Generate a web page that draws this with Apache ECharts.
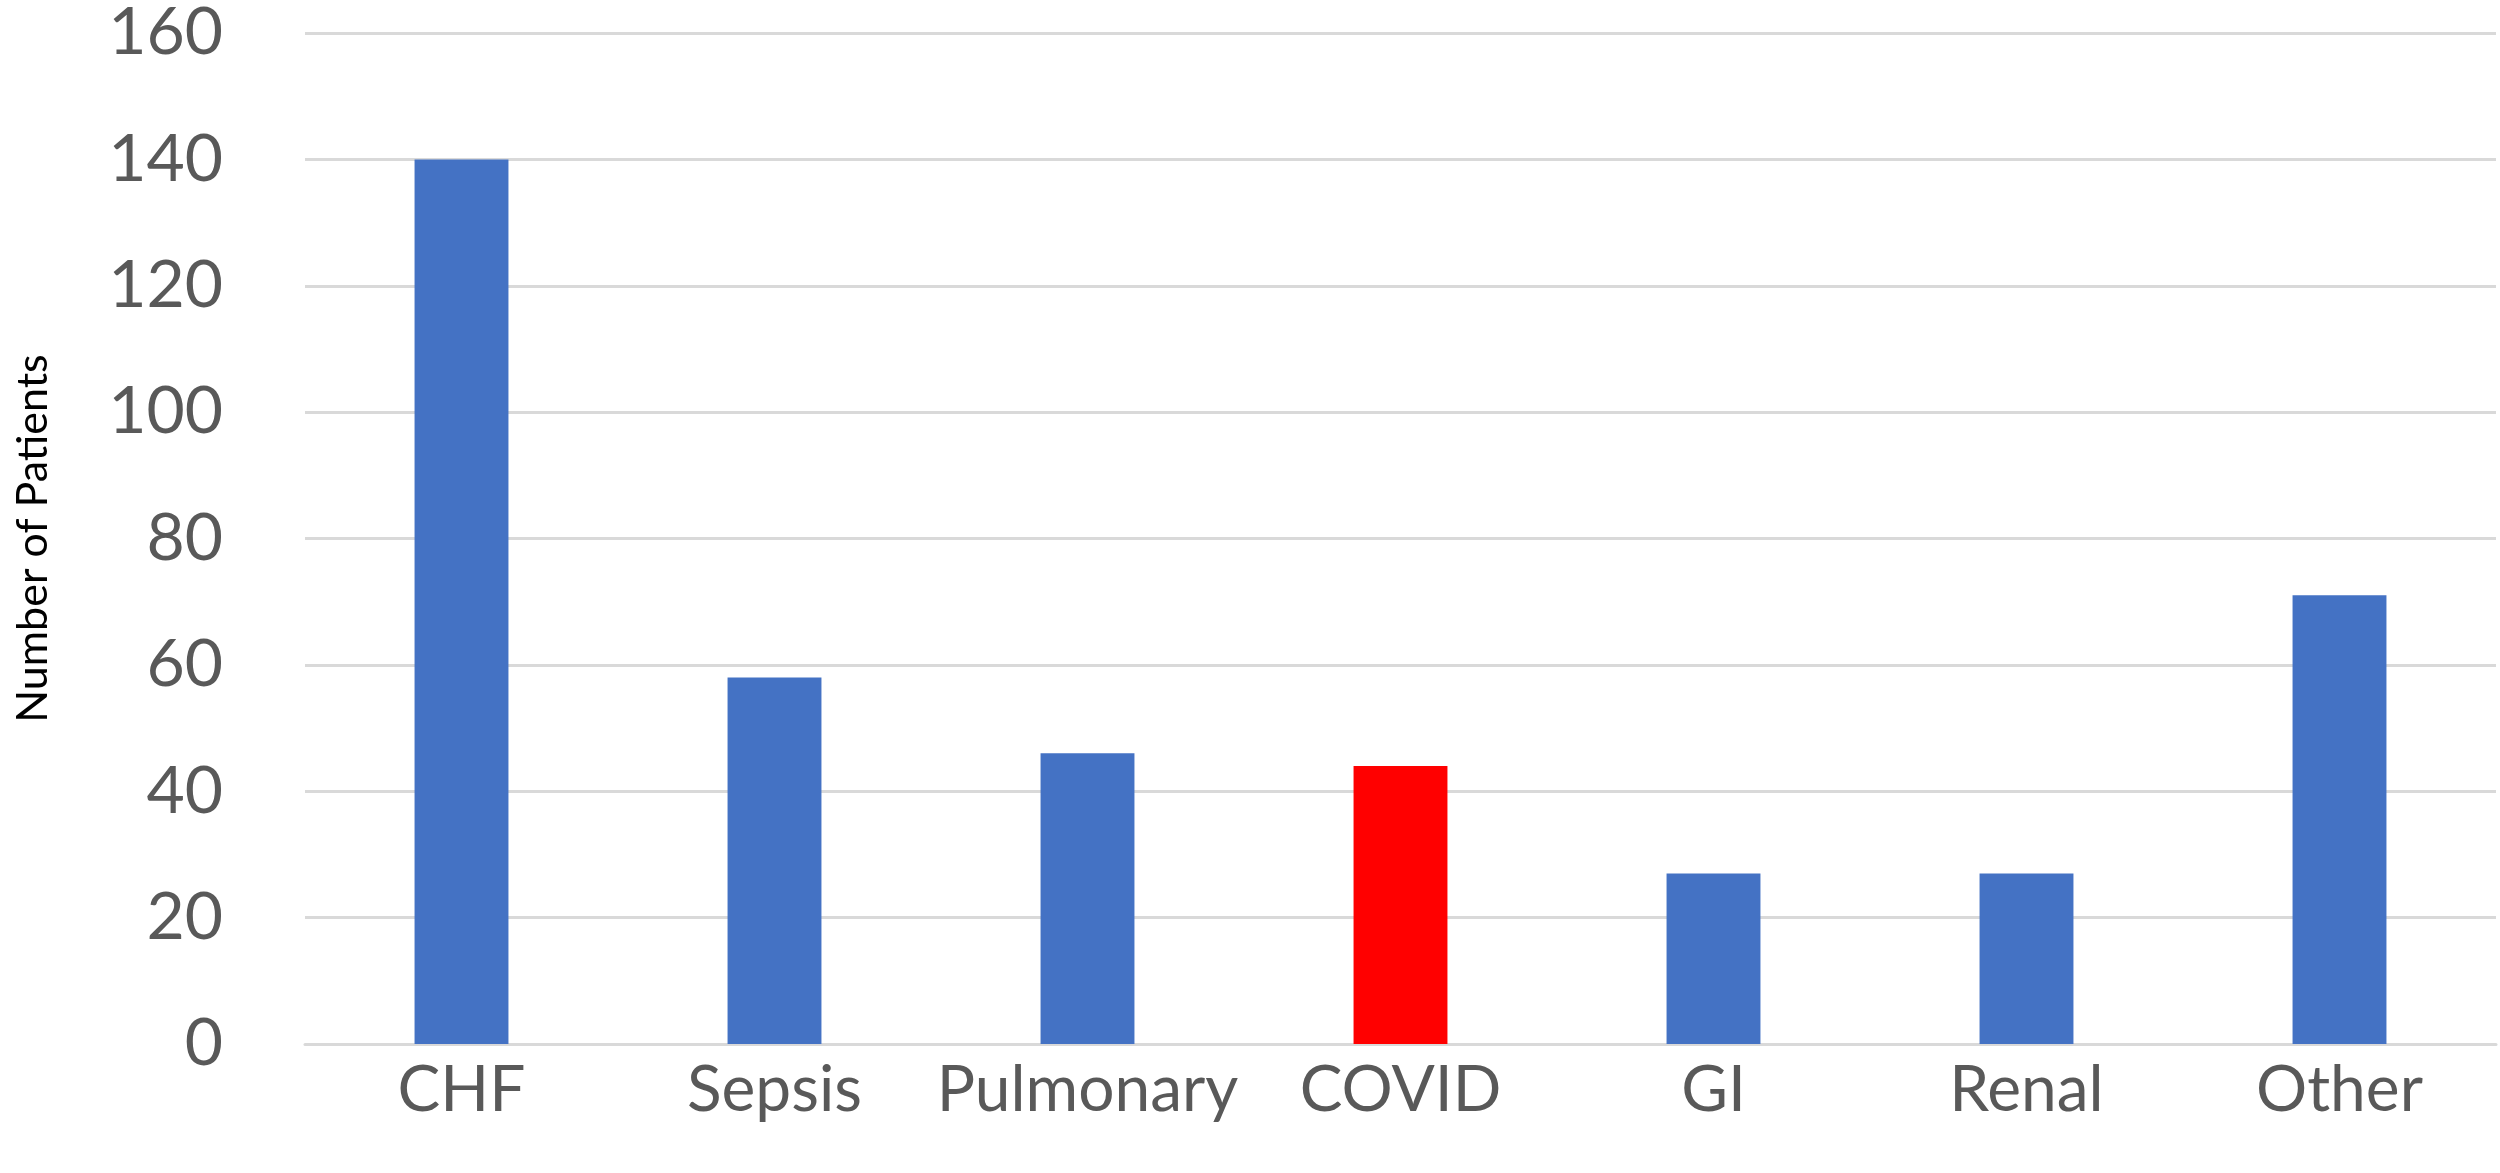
<!DOCTYPE html>
<html>
<head>
<meta charset="utf-8">
<script src="https://cdn.jsdelivr.net/npm/echarts@6/dist/echarts.min.js"></script>
<style>
html,body{margin:0;padding:0;background:#fff;}
#chart{width:2500px;height:1173px;}
</style>
</head>
<body>
<div id="chart"></div>
<script>
const categories = ['CHF', 'Sepsis', 'Pulmonary', 'COVID', 'GI', 'Renal', 'Other'];
const patients = [140, 58, 46, 44, 27, 27, 71];
const highlighted = ['COVID'];
const yTicks = { min: 0, max: 160, interval: 20 };
const yTitle = 'Number of Patients';

const chart = echarts.init(document.getElementById('chart'), null, { renderer: 'canvas' });
chart.setOption({
  animation: false,
  backgroundColor: '#ffffff',
  grid: { left: 305, right: 4, top: 33, bottom: 129, containLabel: false },
  xAxis: {
    type: 'category',
    data: categories,
    axisLine: { show: true, lineStyle: { color: '#d9d9d9', width: 3 } },
    axisTick: { show: false },
    axisLabel: { interval: 0, fontFamily: 'Lato', fontSize: 64, color: '#595959', margin: 14 }
  },
  yAxis: {
    type: 'value',
    min: yTicks.min, max: yTicks.max, interval: yTicks.interval,
    name: yTitle,
    nameLocation: 'middle',
    nameGap: 250,
    nameRotate: 90,
    nameTextStyle: { fontFamily: 'Lato', fontSize: 43, color: '#000000' },
    axisLine: { show: false },
    axisTick: { show: false },
    splitLine: { lineStyle: { color: '#d9d9d9', width: 3 } },
    axisLabel: { fontFamily: 'Lato', fontSize: 66, color: '#595959', margin: 82 }
  },
  series: [{
    type: 'bar',
    data: patients,
    barWidth: '30%',
    itemStyle: {
      color: p => highlighted.includes(categories[p.dataIndex]) ? '#ff0000' : '#4472c4'
    }
  }]
});
</script>
</body>
</html>
